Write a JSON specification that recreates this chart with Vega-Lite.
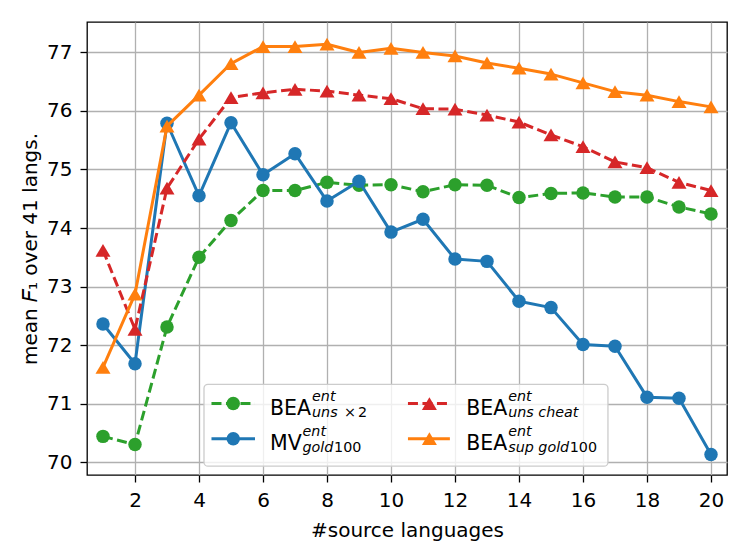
{
  "$schema": "https://vega.github.io/schema/vega-lite/v6.json",
  "width": 640,
  "height": 453,
  "autosize": {"type": "none"},
  "padding": {"left": 87, "top": 22, "right": 22, "bottom": 79},
  "background": "white",
  "config": {
    "font": "DejaVu Sans",
    "view": {"stroke": "black", "strokeWidth": 1.3},
    "axis": {
      "labelFont": "DejaVu Sans", "labelFontSize": 20, "labelColor": "black",
      "titleFont": "DejaVu Sans", "titleFontSize": 20, "titleFontWeight": "normal", "titleColor": "black",
      "tickColor": "black", "tickWidth": 1.3, "tickSize": 7, "domain": false,
      "grid": true, "gridColor": "#b0b0b0", "gridWidth": 1.3, "gridOpacity": 1, "labelPadding": 8
    }
  },
  "datasets": {
    "scores": [
      {"n": 1, "method": "BEA_uns_x2", "f1": 70.44}, {"n": 2, "method": "BEA_uns_x2", "f1": 70.30}, {"n": 3, "method": "BEA_uns_x2", "f1": 72.31}, {"n": 4, "method": "BEA_uns_x2", "f1": 73.50}, {"n": 5, "method": "BEA_uns_x2", "f1": 74.13},
      {"n": 6, "method": "BEA_uns_x2", "f1": 74.64}, {"n": 7, "method": "BEA_uns_x2", "f1": 74.64}, {"n": 8, "method": "BEA_uns_x2", "f1": 74.78}, {"n": 9, "method": "BEA_uns_x2", "f1": 74.73}, {"n": 10, "method": "BEA_uns_x2", "f1": 74.74},
      {"n": 11, "method": "BEA_uns_x2", "f1": 74.62}, {"n": 12, "method": "BEA_uns_x2", "f1": 74.74}, {"n": 13, "method": "BEA_uns_x2", "f1": 74.73}, {"n": 14, "method": "BEA_uns_x2", "f1": 74.52}, {"n": 15, "method": "BEA_uns_x2", "f1": 74.59},
      {"n": 16, "method": "BEA_uns_x2", "f1": 74.60}, {"n": 17, "method": "BEA_uns_x2", "f1": 74.53}, {"n": 18, "method": "BEA_uns_x2", "f1": 74.53}, {"n": 19, "method": "BEA_uns_x2", "f1": 74.36}, {"n": 20, "method": "BEA_uns_x2", "f1": 74.24},
      {"n": 1, "method": "MV_gold100", "f1": 72.36}, {"n": 2, "method": "MV_gold100", "f1": 71.68}, {"n": 3, "method": "MV_gold100", "f1": 75.79}, {"n": 4, "method": "MV_gold100", "f1": 74.55}, {"n": 5, "method": "MV_gold100", "f1": 75.80},
      {"n": 6, "method": "MV_gold100", "f1": 74.91}, {"n": 7, "method": "MV_gold100", "f1": 75.27}, {"n": 8, "method": "MV_gold100", "f1": 74.46}, {"n": 9, "method": "MV_gold100", "f1": 74.80}, {"n": 10, "method": "MV_gold100", "f1": 73.93},
      {"n": 11, "method": "MV_gold100", "f1": 74.15}, {"n": 12, "method": "MV_gold100", "f1": 73.47}, {"n": 13, "method": "MV_gold100", "f1": 73.43}, {"n": 14, "method": "MV_gold100", "f1": 72.75}, {"n": 15, "method": "MV_gold100", "f1": 72.64},
      {"n": 16, "method": "MV_gold100", "f1": 72.01}, {"n": 17, "method": "MV_gold100", "f1": 71.98}, {"n": 18, "method": "MV_gold100", "f1": 71.11}, {"n": 19, "method": "MV_gold100", "f1": 71.09}, {"n": 20, "method": "MV_gold100", "f1": 70.13},
      {"n": 1, "method": "BEA_uns_cheat", "f1": 73.62}, {"n": 2, "method": "BEA_uns_cheat", "f1": 72.27}, {"n": 3, "method": "BEA_uns_cheat", "f1": 74.68}, {"n": 4, "method": "BEA_uns_cheat", "f1": 75.52}, {"n": 5, "method": "BEA_uns_cheat", "f1": 76.23},
      {"n": 6, "method": "BEA_uns_cheat", "f1": 76.31}, {"n": 7, "method": "BEA_uns_cheat", "f1": 76.37}, {"n": 8, "method": "BEA_uns_cheat", "f1": 76.34}, {"n": 9, "method": "BEA_uns_cheat", "f1": 76.27}, {"n": 10, "method": "BEA_uns_cheat", "f1": 76.21},
      {"n": 11, "method": "BEA_uns_cheat", "f1": 76.04}, {"n": 12, "method": "BEA_uns_cheat", "f1": 76.03}, {"n": 13, "method": "BEA_uns_cheat", "f1": 75.93}, {"n": 14, "method": "BEA_uns_cheat", "f1": 75.81}, {"n": 15, "method": "BEA_uns_cheat", "f1": 75.59},
      {"n": 16, "method": "BEA_uns_cheat", "f1": 75.39}, {"n": 17, "method": "BEA_uns_cheat", "f1": 75.13}, {"n": 18, "method": "BEA_uns_cheat", "f1": 75.03}, {"n": 19, "method": "BEA_uns_cheat", "f1": 74.78}, {"n": 20, "method": "BEA_uns_cheat", "f1": 74.64},
      {"n": 1, "method": "BEA_sup_gold100", "f1": 71.62}, {"n": 2, "method": "BEA_sup_gold100", "f1": 72.87}, {"n": 3, "method": "BEA_sup_gold100", "f1": 75.74}, {"n": 4, "method": "BEA_sup_gold100", "f1": 76.27}, {"n": 5, "method": "BEA_sup_gold100", "f1": 76.81},
      {"n": 6, "method": "BEA_sup_gold100", "f1": 77.10}, {"n": 7, "method": "BEA_sup_gold100", "f1": 77.10}, {"n": 8, "method": "BEA_sup_gold100", "f1": 77.14}, {"n": 9, "method": "BEA_sup_gold100", "f1": 77.00}, {"n": 10, "method": "BEA_sup_gold100", "f1": 77.07},
      {"n": 11, "method": "BEA_sup_gold100", "f1": 77.00}, {"n": 12, "method": "BEA_sup_gold100", "f1": 76.94}, {"n": 13, "method": "BEA_sup_gold100", "f1": 76.82}, {"n": 14, "method": "BEA_sup_gold100", "f1": 76.73}, {"n": 15, "method": "BEA_sup_gold100", "f1": 76.63},
      {"n": 16, "method": "BEA_sup_gold100", "f1": 76.48}, {"n": 17, "method": "BEA_sup_gold100", "f1": 76.33}, {"n": 18, "method": "BEA_sup_gold100", "f1": 76.27}, {"n": 19, "method": "BEA_sup_gold100", "f1": 76.16}, {"n": 20, "method": "BEA_sup_gold100", "f1": 76.07}
    ]
  },
  "data": {"name": "scores"},
  "encoding": {
    "x": {
      "field": "n", "type": "quantitative",
      "scale": {"domain": [0.5, 20.5], "nice": false, "zero": false},
      "axis": {"values": [2, 4, 6, 8, 10, 12, 14, 16, 18, 20], "title": "#source languages", "titlePadding": 10}
    },
    "y": {
      "field": "f1", "type": "quantitative",
      "scale": {"domain": [69.78, 77.52], "nice": false, "zero": false},
      "axis": {"values": [70, 71, 72, 73, 74, 75, 76, 77], "title": "mean 𝐹₁ over 41 langs.", "titlePadding": 6}
    }
  },
  "layer": [
    {
      "transform": [{"filter": "datum.method === 'BEA_uns_x2'"}],
      "mark": {"type": "line", "color": "#2ca02c", "strokeWidth": 3, "strokeDash": [10, 4.5], "strokeJoin": "round",
        "point": {"filled": true, "shape": "circle", "size": 182, "color": "#2ca02c", "opacity": 1}}
    },
    {
      "transform": [{"filter": "datum.method === 'MV_gold100'"}],
      "mark": {"type": "line", "color": "#1f77b4", "strokeWidth": 3, "strokeJoin": "round",
        "point": {"filled": true, "shape": "circle", "size": 182, "color": "#1f77b4", "opacity": 1}}
    },
    {
      "transform": [{"filter": "datum.method === 'BEA_uns_cheat'"}],
      "mark": {"type": "line", "color": "#d62728", "strokeWidth": 3, "strokeDash": [10, 4.5], "strokeJoin": "round",
        "point": {"filled": true, "shape": "M0,-0.85L-1,0.85L1,0.85Z", "size": 225, "color": "#d62728", "opacity": 1}}
    },
    {
      "transform": [{"filter": "datum.method === 'BEA_sup_gold100'"}],
      "mark": {"type": "line", "color": "#ff7f0e", "strokeWidth": 3, "strokeJoin": "round",
        "point": {"filled": true, "shape": "M0,-0.85L-1,0.85L1,0.85Z", "size": 225, "color": "#ff7f0e", "opacity": 1}}
    },
    {
      "transform": [{"filter": "datum.n === 1 && datum.method === 'BEA_uns_x2'"}],
      "layer": [
        {
          "mark": {"type": "rect", "fill": "white", "fillOpacity": 0.8, "stroke": "#cccccc", "strokeWidth": 1.3, "cornerRadius": 4},
          "encoding": {"x": {"datum": 4.156}, "x2": {"datum": 16.78}, "y": {"datum": 71.33}, "y2": {"datum": 69.93}}
        },
        {
          "mark": {"type": "rule", "color": "#2ca02c", "strokeWidth": 3, "strokeDash": [10, 4.5]},
          "encoding": {"x": {"datum": 4.39}, "x2": {"datum": 5.75}, "y": {"datum": 71.0}}
        },
        {
          "mark": {"type": "point", "filled": true, "shape": "circle", "size": 182, "color": "#2ca02c", "opacity": 1},
          "encoding": {"x": {"datum": 5.07}, "y": {"datum": 71.0}}
        },
        {
          "mark": {"type": "rule", "color": "#1f77b4", "strokeWidth": 3},
          "encoding": {"x": {"datum": 4.39}, "x2": {"datum": 5.75}, "y": {"datum": 70.40}}
        },
        {
          "mark": {"type": "point", "filled": true, "shape": "circle", "size": 182, "color": "#1f77b4", "opacity": 1},
          "encoding": {"x": {"datum": 5.07}, "y": {"datum": 70.40}}
        },
        {
          "mark": {"type": "rule", "color": "#d62728", "strokeWidth": 3, "strokeDash": [10, 4.5]},
          "encoding": {"x": {"datum": 10.53}, "x2": {"datum": 11.84}, "y": {"datum": 71.0}}
        },
        {
          "mark": {"type": "point", "filled": true, "shape": "M0,-0.85L-1,0.85L1,0.85Z", "size": 225, "color": "#d62728", "opacity": 1},
          "encoding": {"x": {"datum": 11.20}, "y": {"datum": 71.0}}
        },
        {
          "mark": {"type": "rule", "color": "#ff7f0e", "strokeWidth": 3},
          "encoding": {"x": {"datum": 10.53}, "x2": {"datum": 11.84}, "y": {"datum": 70.40}}
        },
        {
          "mark": {"type": "point", "filled": true, "shape": "M0,-0.85L-1,0.85L1,0.85Z", "size": 225, "color": "#ff7f0e", "opacity": 1},
          "encoding": {"x": {"datum": 11.20}, "y": {"datum": 70.40}}
        },
        {
          "mark": {"type": "text", "text": "BEA", "fontSize": 20.5, "align": "left", "baseline": "alphabetic", "dy": 11, "color": "black"},
          "encoding": {"x": {"datum": 6.22}, "y": {"datum": 71.0}}
        },
        {
          "mark": {"type": "text", "text": "ent", "fontSize": 14.3, "fontStyle": "italic", "align": "left", "baseline": "alphabetic", "dx": 42, "dy": -2.5, "color": "black"},
          "encoding": {"x": {"datum": 6.22}, "y": {"datum": 71.0}}
        },
        {
          "mark": {"type": "text", "text": "uns", "fontSize": 14.3, "fontStyle": "italic", "align": "left", "baseline": "alphabetic", "dx": 42, "dy": 13.5, "color": "black"},
          "encoding": {"x": {"datum": 6.22}, "y": {"datum": 71.0}}
        },
        {
          "mark": {"type": "text", "text": "×", "fontSize": 14.3, "align": "left", "baseline": "alphabetic", "dx": 74, "dy": 13.5, "color": "black"},
          "encoding": {"x": {"datum": 6.22}, "y": {"datum": 71.0}}
        },
        {
          "mark": {"type": "text", "text": "2", "fontSize": 14.3, "align": "left", "baseline": "alphabetic", "dx": 88, "dy": 13.5, "color": "black"},
          "encoding": {"x": {"datum": 6.22}, "y": {"datum": 71.0}}
        },
        {
          "mark": {"type": "text", "text": "MV", "fontSize": 20.5, "align": "left", "baseline": "alphabetic", "dy": 11, "color": "black"},
          "encoding": {"x": {"datum": 6.22}, "y": {"datum": 70.40}}
        },
        {
          "mark": {"type": "text", "text": "ent", "fontSize": 14.3, "fontStyle": "italic", "align": "left", "baseline": "alphabetic", "dx": 32.5, "dy": -2.5, "color": "black"},
          "encoding": {"x": {"datum": 6.22}, "y": {"datum": 70.40}}
        },
        {
          "mark": {"type": "text", "text": "gold", "fontSize": 14.3, "fontStyle": "italic", "align": "left", "baseline": "alphabetic", "dx": 32.5, "dy": 13.5, "color": "black"},
          "encoding": {"x": {"datum": 6.22}, "y": {"datum": 70.40}}
        },
        {
          "mark": {"type": "text", "text": "100", "fontSize": 14.3, "align": "left", "baseline": "alphabetic", "dx": 64, "dy": 13.5, "color": "black"},
          "encoding": {"x": {"datum": 6.22}, "y": {"datum": 70.40}}
        },
        {
          "mark": {"type": "text", "text": "BEA", "fontSize": 20.5, "align": "left", "baseline": "alphabetic", "dy": 11, "color": "black"},
          "encoding": {"x": {"datum": 12.35}, "y": {"datum": 71.0}}
        },
        {
          "mark": {"type": "text", "text": "ent", "fontSize": 14.3, "fontStyle": "italic", "align": "left", "baseline": "alphabetic", "dx": 42, "dy": -2.5, "color": "black"},
          "encoding": {"x": {"datum": 12.35}, "y": {"datum": 71.0}}
        },
        {
          "mark": {"type": "text", "text": "uns cheat", "fontSize": 14.3, "fontStyle": "italic", "align": "left", "baseline": "alphabetic", "dx": 42, "dy": 13.5, "color": "black"},
          "encoding": {"x": {"datum": 12.35}, "y": {"datum": 71.0}}
        },
        {
          "mark": {"type": "text", "text": "BEA", "fontSize": 20.5, "align": "left", "baseline": "alphabetic", "dy": 11, "color": "black"},
          "encoding": {"x": {"datum": 12.35}, "y": {"datum": 70.40}}
        },
        {
          "mark": {"type": "text", "text": "ent", "fontSize": 14.3, "fontStyle": "italic", "align": "left", "baseline": "alphabetic", "dx": 42, "dy": -2.5, "color": "black"},
          "encoding": {"x": {"datum": 12.35}, "y": {"datum": 70.40}}
        },
        {
          "mark": {"type": "text", "text": "sup gold", "fontSize": 14.3, "fontStyle": "italic", "align": "left", "baseline": "alphabetic", "dx": 42, "dy": 13.5, "color": "black"},
          "encoding": {"x": {"datum": 12.35}, "y": {"datum": 70.40}}
        },
        {
          "mark": {"type": "text", "text": "100", "fontSize": 14.3, "align": "left", "baseline": "alphabetic", "dx": 103.5, "dy": 13.5, "color": "black"},
          "encoding": {"x": {"datum": 12.35}, "y": {"datum": 70.40}}
        }
      ]
    }
  ]
}
